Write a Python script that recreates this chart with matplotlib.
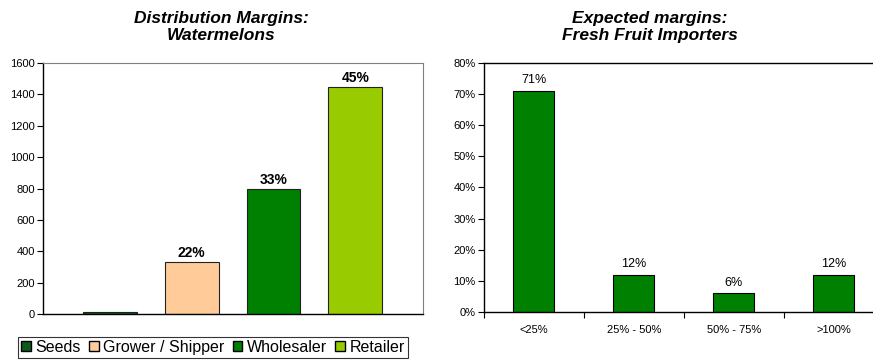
import matplotlib.pyplot as plt
from matplotlib.patches import Patch
from matplotlib.ticker import FixedLocator, PercentFormatter

plt.rcParams['font.family'] = ['Liberation Sans', 'DejaVu Sans']

# Distribution margins along the watermelon chain
stages = ["Seeds", "Grower / Shipper", "Wholesaler", "Retailer"]
stage_values = [15, 330, 800, 1450]
stage_shares = [None, "22%", "33%", "45%"]
stage_colors = ["#0A5C1E", "#FFCC99", "#008000", "#99CC00"]

# Expected margins reported by fresh fruit importers
margin_bands = ["<25%", "25% - 50%", "50% - 75%", ">100%"]
importer_shares = [71, 12, 6, 12]

fig = plt.figure(figsize=(8.73, 3.62), dpi=100)

# left chart
ax1 = fig.add_axes([0.0493, 0.1326, 0.4353, 0.693])
x1 = range(len(stages))
bars = ax1.bar(x1, stage_values, width=0.66, color=stage_colors,
               edgecolor="#222222", linewidth=0.8)
for b, lab in zip(bars, stage_shares):
    if lab:
        ax1.text(b.get_x() + b.get_width() / 2, b.get_height() + 12, lab,
                 ha="center", va="bottom", fontsize=10, fontweight="bold")
ax1.set_xlim(-0.82, 3.83)
ax1.set_ylim(0, 1600)
ax1.set_yticks(range(0, 1601, 200))
ax1.set_xticks([])
ax1.tick_params(axis="y", labelsize=8, length=4, width=0.8, pad=2)
for s in ["top", "right"]:
    ax1.spines[s].set_color("#808080")
for s in ["left", "bottom"]:
    ax1.spines[s].set_color("black")
    ax1.spines[s].set_linewidth(1.0)

handles = [Patch(facecolor=c, edgecolor="black", label=s)
           for c, s in zip(stage_colors, stages)]
leg = fig.legend(handles=handles, loc="lower left",
                 bbox_to_anchor=(18 / 873, 4 / 362), ncol=4, fontsize=11.5,
                 frameon=True, fancybox=False, handlelength=0.6,
                 handleheight=0.6, handletextpad=0.3, columnspacing=0.5,
                 borderpad=0.2, borderaxespad=0)
leg.get_frame().set_edgecolor("black")
leg.get_frame().set_linewidth(0.8)

fig.text(221 / 873, 1 - 27 / 362, "Distribution Margins:\nWatermelons",
         ha="center", va="center", fontsize=12.5, fontweight="bold",
         fontstyle="italic", linespacing=1.15)

# right chart
ax2 = fig.add_axes([0.5544, 0.1381, 0.4582, 0.688])
x2 = range(len(margin_bands))
bars2 = ax2.bar(x2, importer_shares, width=0.41, color="#008000",
                edgecolor="black", linewidth=0.8)
for b, v in zip(bars2, importer_shares):
    ax2.text(b.get_x() + b.get_width() / 2, v + 1.5, f"{v}%",
             ha="center", va="bottom", fontsize=9)
ax2.set_xlim(-0.5, 3.5)
ax2.set_ylim(0, 80)
ax2.set_yticks(range(0, 81, 10))
ax2.yaxis.set_major_formatter(PercentFormatter(decimals=0))
ax2.set_xticks(list(x2))
ax2.set_xticklabels(margin_bands)
ax2.xaxis.set_minor_locator(FixedLocator([-0.5, 0.5, 1.5, 2.5, 3.5]))
ax2.tick_params(axis="x", which="major", length=0, labelsize=8, pad=9)
ax2.tick_params(axis="x", which="minor", length=4, width=0.8)
ax2.tick_params(axis="y", labelsize=8, length=4, width=0.8, pad=2)
for s in ax2.spines.values():
    s.set_color("black")
    s.set_linewidth(1.0)

fig.text(650 / 873, 1 - 27 / 362, "Expected margins:\nFresh Fruit Importers",
         ha="center", va="center", fontsize=12.5, fontweight="bold",
         fontstyle="italic", linespacing=1.15)

fig.savefig("out.png", dpi=100)
